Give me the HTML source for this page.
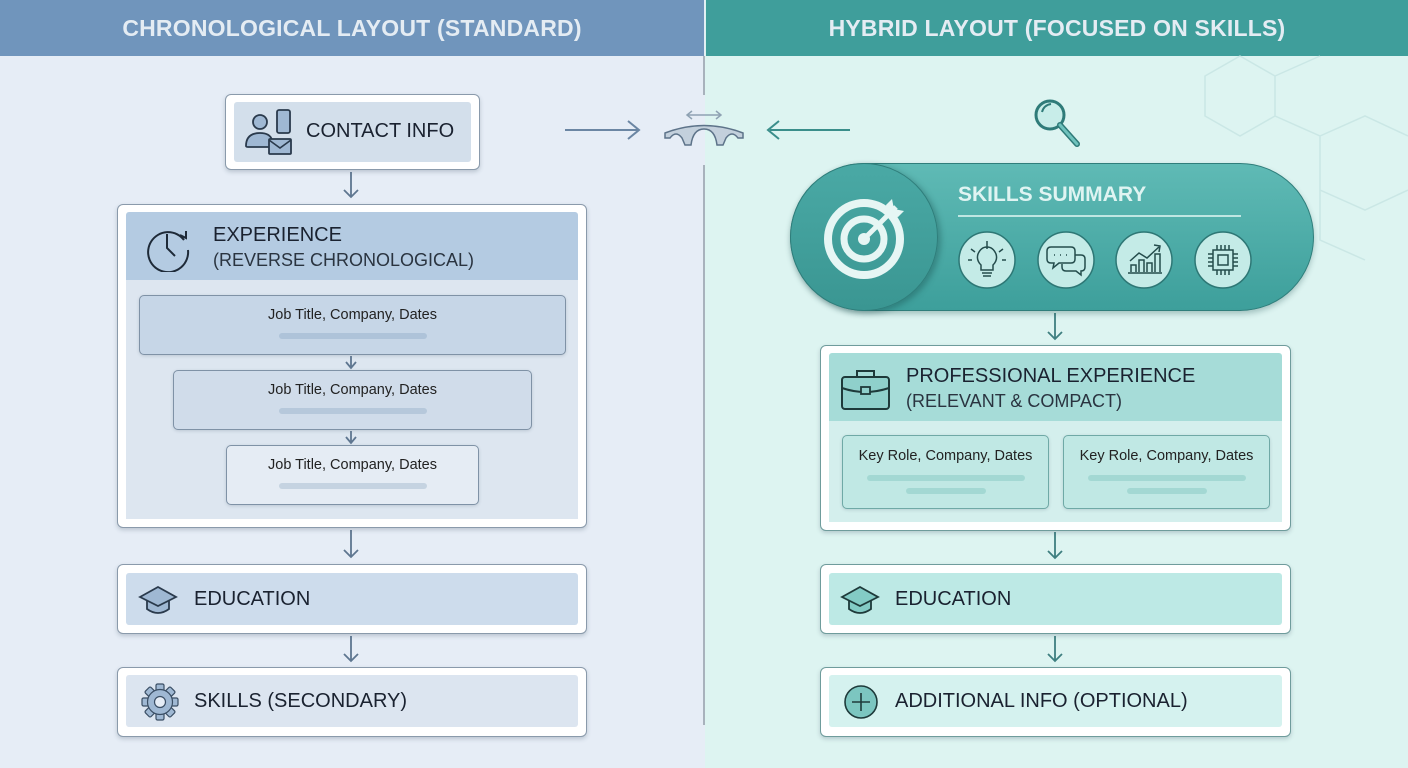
<!DOCTYPE html>
<html><head><style>
*{margin:0;padding:0;box-sizing:border-box}
body{width:1408px;height:768px;overflow:hidden;font-family:"Liberation Sans",sans-serif;position:relative;background:#e6edf6}
.a{position:absolute}
.hd{top:0;height:56px;color:#e4ecf3;font-size:23px;font-weight:bold;text-align:center;line-height:56px;letter-spacing:0.2px}
.ob{position:absolute;background:#fff;border:1.5px solid #8a9aab;border-radius:6px;box-shadow:0 2px 4px rgba(60,80,100,.25)}
.obt{border-color:#6f9c9c}
.t{position:absolute;color:#1a2230;font-size:20px;white-space:nowrap}
.s{font-size:18px;color:#2a3440}
.card{position:absolute;border:1.5px solid #7f92a6;border-radius:5px;box-shadow:0 1px 3px rgba(60,80,100,.2)}
.ct{position:absolute;width:100%;text-align:center;top:11px;font-size:14.5px;color:#222}
.bar{position:absolute;height:6px;border-radius:3px;left:50%;transform:translateX(-50%)}
</style></head><body>
<div class="a" style="left:705px;top:0;width:703px;height:768px;background:#ddf4f1"></div>
<div class="a hd" style="left:0;width:704px;background:#7095bc">CHRONOLOGICAL LAYOUT (STANDARD)</div>
<div class="a hd" style="left:706px;width:702px;background:#3f9e9b">HYBRID LAYOUT (FOCUSED ON SKILLS)</div>
<svg class="a" style="left:0;top:0" width="1408" height="768">
<g stroke="#c6e4e2" stroke-width="1.5" fill="none" opacity=".8">
<path d="M1240 56 L1275 76 L1275 116 L1240 136 L1205 116 L1205 76 Z M1275 76 L1320 56 M1275 116 L1320 136 L1320 190 L1365 210 L1408 190 M1320 136 L1365 116 L1408 136 M1320 190 L1320 240 L1365 260"/>
</g>
<line x1="704" y1="56" x2="704" y2="95" stroke="#a8b2bc" stroke-width="2"/>
<line x1="704" y1="165" x2="704" y2="725" stroke="#a8b2bc" stroke-width="2"/>
<line x1="565" y1="130" x2="638" y2="130" stroke="#6b86a3" stroke-width="2"/>
<path d="M628 121 L639 130 L628 139" stroke="#6b86a3" stroke-width="2" fill="none"/>
<line x1="770" y1="130" x2="850" y2="130" stroke="#3a8e8b" stroke-width="2"/>
<path d="M779 121 L768 130 L779 139" stroke="#3a8e8b" stroke-width="2" fill="none"/>
<path d="M665 133 Q704 118 743 133 L743 138 L738 138 Q732 130 726 138 L723 145 L717 145 Q715 129 704 129 Q693 129 691 145 L685 145 L682 138 Q676 130 670 138 L665 138 Z" fill="#c3d0dc" stroke="#5d7389" stroke-width="1.5"/>
<path d="M688 115 L720 115 M692 111 L687 115 L692 119 M716 111 L721 115 L716 119" stroke="#8fa2b3" stroke-width="1.5" fill="none"/>
<g stroke="#5e7690" stroke-width="1.8" fill="none">
<path d="M351 172 V197 M344 190 L351 197 L358 190"/>
<path d="M351 530 V557 M344 550 L351 557 L358 550"/>
<path d="M351 636 V661 M344 654 L351 661 L358 654"/>
</g>
<g stroke="#3e7f80" stroke-width="1.8" fill="none">
<path d="M1055 313 V339 M1048 332 L1055 339 L1062 332"/>
<path d="M1055 532 V558 M1048 551 L1055 558 L1062 551"/>
<path d="M1055 636 V661 M1048 654 L1055 661 L1062 654"/>
</g>
<circle cx="1050" cy="115" r="14" fill="#c8ede9" stroke="#2f7b79" stroke-width="3"/>
<path d="M1042 112 Q1044 105 1051 104" stroke="#2f7b79" stroke-width="2" fill="none"/>
<path d="M1060 125 L1077 144" stroke="#2f7b79" stroke-width="6" stroke-linecap="round"/>
<path d="M1060 125 L1077 144" stroke="#6fc2bd" stroke-width="3" stroke-linecap="round"/>
</svg>

<!-- LEFT -->
<div class="ob" style="left:225px;top:94px;width:255px;height:76px"></div>
<div class="a" style="left:234px;top:102px;width:237px;height:60px;background:#d3dfeb;border-radius:3px"></div>
<svg class="a" style="left:244px;top:108px" width="52" height="48">
<circle cx="16" cy="14" r="7" fill="#9fb8d3" stroke="#2a3a4c" stroke-width="1.8"/>
<path d="M2 38 Q2 25 16 25 Q26 25 28 32 L28 39 L4 39 Q2 39 2 38Z" fill="#9fb8d3" stroke="#2a3a4c" stroke-width="1.8"/>
<rect x="33" y="2" width="13" height="23" rx="2" fill="#9fb8d3" stroke="#2a3a4c" stroke-width="1.8"/>
<rect x="25" y="31" width="22" height="15" rx="1" fill="#9fb8d3" stroke="#2a3a4c" stroke-width="1.8"/>
<path d="M25 32 L36 40 L47 32" stroke="#2a3a4c" stroke-width="1.6" fill="none"/>
</svg>
<div class="t" style="left:306px;top:120px">CONTACT INFO</div>

<div class="ob" style="left:117px;top:204px;width:470px;height:324px"></div>
<div class="a" style="left:126px;top:212px;width:452px;height:68px;background:#b4cbe2;border-radius:3px 3px 0 0"></div>
<div class="a" style="left:126px;top:280px;width:452px;height:239px;background:#dde6f0"></div>
<svg class="a" style="left:144px;top:222px" width="50" height="50">
<path d="M40 18 A20 20 0 1 0 44 28" stroke="#1e2a38" stroke-width="2" fill="none"/>
<path d="M36 13 L42 16 L42 9" stroke="#1e2a38" stroke-width="2" fill="none"/>
<path d="M23 12 V26 L31 34" stroke="#1e2a38" stroke-width="2" fill="none"/>
</svg>
<div class="t" style="left:213px;top:224px">EXPERIENCE</div>
<div class="t s" style="left:213px;top:250px">(REVERSE CHRONOLOGICAL)</div>
<div class="card" style="left:139px;top:295px;width:427px;height:60px;background:#c6d6e7"><div class="ct">Job Title, Company, Dates</div><div class="bar" style="top:37px;width:148px;background:#aec3d9"></div></div>
<div class="card" style="left:173px;top:370px;width:359px;height:60px;background:#d0dcea"><div class="ct">Job Title, Company, Dates</div><div class="bar" style="top:37px;width:148px;background:#b6c8db"></div></div>
<div class="card" style="left:226px;top:445px;width:253px;height:60px;background:#e5ecf4"><div class="ct">Job Title, Company, Dates</div><div class="bar" style="top:37px;width:148px;background:#c5d3e1"></div></div>
<svg class="a" style="left:340px;top:350px" width="24" height="100">
<g stroke="#5e7690" stroke-width="1.8" fill="none">
<path d="M11 6 V18 M6 12 L11 18 L16 12"/>
<path d="M11 81 V93 M6 87 L11 93 L16 87"/>
</g>
</svg>

<div class="ob" style="left:117px;top:564px;width:470px;height:70px"></div>
<div class="a" style="left:126px;top:573px;width:452px;height:52px;background:#cddcec;border-radius:3px"></div>
<svg class="a" style="left:138px;top:583px" width="44" height="36">
<path d="M9 16 V26 Q20 34 31 26 V16" fill="#9fb8d3" stroke="#2a3a4c" stroke-width="1.8"/>
<path d="M2 14 L20 4 L38 14 L20 23 Z" fill="#9fb8d3" stroke="#2a3a4c" stroke-width="1.8"/>
</svg>
<div class="t" style="left:194px;top:588px">EDUCATION</div>

<div class="ob" style="left:117px;top:667px;width:470px;height:70px"></div>
<div class="a" style="left:126px;top:675px;width:452px;height:52px;background:#dce5f0;border-radius:3px"></div>
<svg class="a" style="left:140px;top:682px" width="40" height="40">
<g transform="translate(20,20)" fill="#9fb8d3" stroke="#3a4e64" stroke-width="1.2">
<rect x="-4" y="-18" width="8" height="8" rx="1.5"/>
<rect x="-4" y="-18" width="8" height="8" rx="1.5" transform="rotate(45)"/>
<rect x="-4" y="-18" width="8" height="8" rx="1.5" transform="rotate(90)"/>
<rect x="-4" y="-18" width="8" height="8" rx="1.5" transform="rotate(135)"/>
<rect x="-4" y="-18" width="8" height="8" rx="1.5" transform="rotate(180)"/>
<rect x="-4" y="-18" width="8" height="8" rx="1.5" transform="rotate(225)"/>
<rect x="-4" y="-18" width="8" height="8" rx="1.5" transform="rotate(270)"/>
<rect x="-4" y="-18" width="8" height="8" rx="1.5" transform="rotate(315)"/>
<circle r="12.5"/>
<circle r="5.5" fill="#e6edf6"/>
</g>
</svg>
<div class="t" style="left:194px;top:690px">SKILLS (SECONDARY)</div>

<!-- RIGHT -->
<div class="a" style="left:790px;top:163px;width:524px;height:148px;border-radius:74px;background:linear-gradient(#5fbab5,#3d9f9b);border:1.5px solid #2f7e7b;box-shadow:0 3px 6px rgba(30,80,80,.3)"></div>
<div class="a" style="left:790px;top:163px;width:148px;height:148px;border-radius:74px;background:linear-gradient(#4aa9a5,#3a9692);border:1.5px solid #2f7e7b;box-shadow:3px 2px 6px rgba(20,70,70,.35)"></div>
<svg class="a" style="left:820px;top:193px" width="90" height="90">
<circle cx="44" cy="46" r="36" fill="none" stroke="#e6f6f4" stroke-width="8"/>
<circle cx="44" cy="46" r="20" fill="none" stroke="#e6f6f4" stroke-width="7"/>
<circle cx="44" cy="46" r="6" fill="#e6f6f4"/>
<path d="M44 46 L76 14" stroke="#e6f6f4" stroke-width="5"/>
<path d="M72 6 L74 16 L84 18 L78 24 L68 22 L66 12 Z" fill="#e6f6f4"/>
</svg>
<div class="t" style="left:958px;top:183px;color:#dff4f2;font-weight:bold;font-size:21px">SKILLS SUMMARY</div>
<div class="a" style="left:958px;top:215px;width:283px;height:2px;background:#bfe6e2"></div>
<svg class="a" style="left:950px;top:225px" width="320" height="72">
<g fill="#c4ebe7" stroke="#2d7775" stroke-width="1.5">
<circle cx="37" cy="35" r="28"/><circle cx="116" cy="35" r="28"/><circle cx="194" cy="35" r="28"/><circle cx="273" cy="35" r="28"/>
</g>
<g stroke="#244c4c" stroke-width="1.5" fill="none">
<path d="M31 40 Q26 35 28 29 Q31 22 37 22 Q43 22 46 29 Q48 35 43 40 L43 45 L31 45 Z M32 48 H42 M33 51 H41 M37 24 V16 M25 27 L21 24 M49 27 L53 24 M22 35 H18 M52 35 H56"/>
<path d="M101 22 H121 Q125 22 125 26 V34 Q125 38 121 38 H109 L103 43 L104 38 H101 Q97 38 97 34 V26 Q97 22 101 22Z"/>
<path d="M125 30 H131 Q135 30 135 34 V42 Q135 46 131 46 L131 50 L126 46 H116 Q112 46 112 42 V39"/>
<path d="M104 30 h1 M110 30 h1 M116 30 h1"/>
<path d="M178 48 H212 M181 47 V40 H186 V47 M189 47 V35 H194 V47 M197 47 V38 H202 V47 M205 47 V29 H210 V47 M180 36 L189 28 L197 33 L210 21 M204 20 L210 21 L209 27"/>
<rect x="263" y="25" width="20" height="20"/><rect x="268" y="30" width="10" height="10"/>
<path d="M267 25 v-5 M271 25 v-5 M275 25 v-5 M279 25 v-5 M267 45 v5 M271 45 v5 M275 45 v5 M279 45 v5 M263 29 h-5 M263 33 h-5 M263 37 h-5 M263 41 h-5 M283 29 h5 M283 33 h5 M283 37 h5 M283 41 h5"/>
</g>
</svg>

<div class="ob obt" style="left:820px;top:345px;width:471px;height:186px"></div>
<div class="a" style="left:829px;top:353px;width:453px;height:68px;background:#a6dcd8;border-radius:3px 3px 0 0"></div>
<div class="a" style="left:829px;top:421px;width:453px;height:101px;background:#d4efed"></div>
<svg class="a" style="left:840px;top:368px" width="52" height="44">
<rect x="2" y="9" width="47" height="32" rx="3" fill="#8fd0cb" stroke="#1e3a3a" stroke-width="2"/>
<path d="M17 9 V3 H34 V9 M2 20 Q25 28 49 20" stroke="#1e3a3a" stroke-width="2" fill="none"/>
<rect x="21" y="19" width="9" height="7" fill="#8fd0cb" stroke="#1e3a3a" stroke-width="1.8"/>
</svg>
<div class="t" style="left:906px;top:365px">PROFESSIONAL EXPERIENCE</div>
<div class="t s" style="left:906px;top:391px">(RELEVANT &amp; COMPACT)</div>
<div class="card" style="left:842px;top:435px;width:207px;height:74px;background:#c0e8e4;border-color:#6fa9a6"><div class="ct" style="top:12px">Key Role, Company, Dates</div><div class="bar" style="top:39px;width:158px;background:#a3d8d3"></div><div class="bar" style="top:52px;width:80px;background:#a3d8d3"></div></div>
<div class="card" style="left:1063px;top:435px;width:207px;height:74px;background:#c0e8e4;border-color:#6fa9a6"><div class="ct" style="top:12px">Key Role, Company, Dates</div><div class="bar" style="top:39px;width:158px;background:#a3d8d3"></div><div class="bar" style="top:52px;width:80px;background:#a3d8d3"></div></div>

<div class="ob obt" style="left:820px;top:564px;width:471px;height:70px"></div>
<div class="a" style="left:829px;top:573px;width:453px;height:52px;background:#bde9e5;border-radius:3px"></div>
<svg class="a" style="left:840px;top:583px" width="44" height="36">
<path d="M9 16 V26 Q20 34 31 26 V16" fill="#83cbc5" stroke="#1e3a3a" stroke-width="1.8"/>
<path d="M2 14 L20 4 L38 14 L20 23 Z" fill="#83cbc5" stroke="#1e3a3a" stroke-width="1.8"/>
</svg>
<div class="t" style="left:895px;top:588px">EDUCATION</div>

<div class="ob obt" style="left:820px;top:667px;width:471px;height:70px"></div>
<div class="a" style="left:829px;top:675px;width:453px;height:52px;background:#d5f2ef;border-radius:3px"></div>
<svg class="a" style="left:843px;top:684px" width="36" height="36">
<circle cx="18" cy="18" r="16" fill="#7cc6c0" stroke="#1e3a3a" stroke-width="1.6"/>
<path d="M18 9 V27 M9 18 H27" stroke="#1e3a3a" stroke-width="1.6"/>
</svg>
<div class="t" style="left:895px;top:690px">ADDITIONAL INFO (OPTIONAL)</div>
</body></html>
